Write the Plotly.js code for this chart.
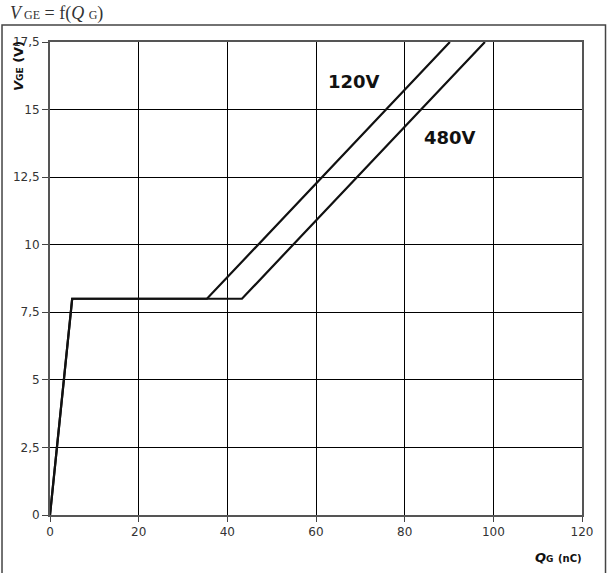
<!DOCTYPE html>
<html>
<head>
<meta charset="utf-8">
<script src="https://cdn.plot.ly/plotly-3.0.1.min.js"></script>
<style>html,body{margin:0;padding:0;background:#fff;}#chart{width:607px;height:573px;}</style>
</head>
<body>
<div id="chart"></div>
<script>
// Data
const qg120 = [0, 5, 35.4, 90.2];
const vge120 = [0, 8, 8, 17.5];
const qg480 = [0, 5, 43.3, 98.1];
const vge480 = [0, 8, 8, 17.5];
const xTicks = [0, 20, 40, 60, 80, 100, 120];
const yTicks = [0, 2.5, 5, 7.5, 10, 12.5, 15, 17.5];
const seriesLabels = ['120V', '480V'];
const labelPos = [[68.6, 16.05], [90.2, 13.95]];

const line = {color: '#111', width: 2.2};
const traces = [
  {x: qg120, y: vge120, mode: 'lines', line: line, name: seriesLabels[0], hoverinfo: 'skip'},
  {x: qg480, y: vge480, mode: 'lines', line: line, name: seriesLabels[1], hoverinfo: 'skip'}
];

const tickFont = {family: 'DejaVu Sans, Verdana, sans-serif', size: 12, color: '#333'};
const layout = {
  width: 607, height: 573,
  margin: {l: 50, r: 25, t: 42, b: 58},
  paper_bgcolor: '#fff', plot_bgcolor: '#fff',
  showlegend: false,
  separators: ',.',
  xaxis: {
    range: [0, 120], tickvals: xTicks, ticks: 'outside', ticklen: 5, tickcolor: '#444',
    showgrid: true, gridcolor: '#000', gridwidth: 1, zeroline: false,
    showline: true, linecolor: '#555', linewidth: 2, mirror: true,
    tickfont: tickFont, fixedrange: true
  },
  yaxis: {
    range: [0, 17.5], tickvals: yTicks, ticks: 'outside', ticklen: 6, tickcolor: '#444',
    showgrid: true, gridcolor: '#000', gridwidth: 1, zeroline: false,
    showline: true, linecolor: '#555', linewidth: 2, mirror: true,
    tickfont: tickFont, fixedrange: true
  },
  shapes: [
    {type: 'rect', xref: 'paper', yref: 'paper', x0: -0.0902, x1: 1.0442, y0: -0.3, y1: 1.0359,
     line: {color: '#444', width: 1.5}, fillcolor: 'rgba(0,0,0,0)', layer: 'below'}
  ],
  annotations: [
    {text: seriesLabels[0], x: labelPos[0][0], y: labelPos[0][1], xref: 'x', yref: 'y', showarrow: false,
     font: {family: 'DejaVu Sans, Verdana, sans-serif', size: 18, color: '#111', weight: 'bold'}},
    {text: seriesLabels[1], x: labelPos[1][0], y: labelPos[1][1], xref: 'x', yref: 'y', showarrow: false,
     font: {family: 'DejaVu Sans, Verdana, sans-serif', size: 18, color: '#111', weight: 'bold'}},
    {text: '<i>V</i><span style="font-size:12px"> GE</span> = f(<i>Q</i> <span style="font-size:12px">G</span>)',
     xref: 'paper', yref: 'paper', x: (8 - 50) / 532, y: (515 - 14) / 473, xanchor: 'left', yanchor: 'middle',
     showarrow: false, font: {family: 'Liberation Serif, serif', size: 18, color: '#333'}},
    {text: '<b><i>V</i><span style="font-size:9px">GE</span> (V)</b>',
     xref: 'paper', yref: 'paper', x: (18 - 50) / 532, y: (515 - 66) / 473, xanchor: 'center', yanchor: 'middle',
     textangle: -90, showarrow: false, font: {family: 'DejaVu Sans, Verdana, sans-serif', size: 13, color: '#111'}},
    {text: '<b><i>Q</i><span style="font-size:9px">G</span> <span style="font-size:10px">(nC)</span></b>',
     xref: 'paper', yref: 'paper', x: (558 - 50) / 532, y: (515 - 557) / 473, xanchor: 'center', yanchor: 'middle',
     showarrow: false, font: {family: 'DejaVu Sans, Verdana, sans-serif', size: 13, color: '#111'}}
  ]
};

Plotly.newPlot('chart', traces, layout, {displayModeBar: false, staticPlot: true});
</script>
</body>
</html>
